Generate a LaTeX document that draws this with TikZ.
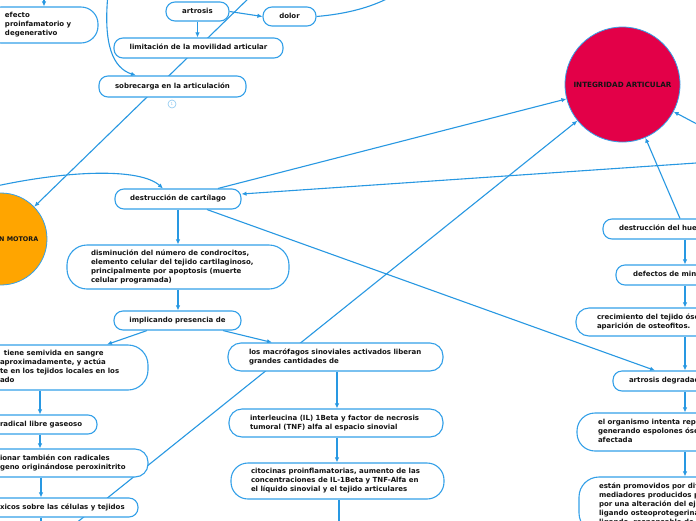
\documentclass[tikz,border=0pt]{standalone}
\usepackage{fontspec}
\setmainfont{DejaVu Sans}
\usetikzlibrary{arrows.meta,calc}
\definecolor{linecol}{RGB}{40,152,226}
\definecolor{boxcol}{RGB}{52,160,232}
\definecolor{txtcol}{RGB}{20,20,20}
\definecolor{crimson}{RGB}{227,0,72}
\definecolor{orng}{RGB}{255,165,0}
\definecolor{badgecol}{RGB}{140,200,240}
\newcommand\boxtext[2]{\makebox[#1pt][l]{\begin{tabular}{@{}l@{}}#2\end{tabular}}}
\newcommand\boxline[2]{\makebox[#1pt][l]{#2}}
\pgfdeclarelayer{back}\pgfdeclarelayer{bg}\pgfsetlayers{back,bg,main}
\begin{document}
\begin{tikzpicture}[x=1pt,y=-1pt,
  every node/.style={font=\fontsize{7}{9}\selectfont\bfseries, text=txtcol},
  box/.style={draw=boxcol, line width=1.1pt, fill=white, inner sep=0pt, rounded corners=9pt},
  one/.style={box, text height=5pt, text depth=1.5pt},
  multi/.style={box, rounded corners=#1pt},
  conn/.style={draw=linecol, line width=1.1pt},
  arr/.style={conn, -{Latex[length=5pt,width=4.5pt]}},
  topic/.style={circle, draw=boxcol, line width=0.8pt, inner sep=0pt, font=\fontsize{7.2}{9}\selectfont\bfseries}]
\useasboundingbox (0,0) rectangle (696,520);
\clip (0,0) rectangle (696,520);

% nodes
\node[multi=17, minimum width=114pt, minimum height=36pt] (efecto) at (41,25) {\boxtext{72}{efecto\\proinfamatorio y\\degenerativo}};
\node[one, minimum width=63pt, minimum height=19pt] (artrosis) at (197.5,11.5) {artrosis};
\node[one, minimum width=53pt, minimum height=19pt] (dolor) at (289.5,16.5) {dolor};
\node[one, minimum width=169pt, minimum height=20pt] (limit) at (198.5,48) {limitación de la movilidad articular};
\node[one, minimum width=147pt, minimum height=21pt] (sobre) at (172.5,86.5) {sobrecarga en la articulación};
\node[circle, draw=badgecol, line width=0.6pt, minimum size=8pt, inner sep=0pt, font=\fontsize{4}{4}\selectfont, text=badgecol] (badge) at (172,104) {1};
\node[topic, fill=orng, minimum size=92pt, font=\fontsize{6.4}{9}\selectfont\bfseries] (motora) at (1,239) {\hspace*{8pt}FUNCIÓN MOTORA};
\node[topic, fill=crimson, minimum size=115pt] (integ) at (622.5,84.5) {INTEGRIDAD ARTICULAR};
\node[one, minimum width=126pt, minimum height=20pt] (dest) at (178,199) {destrucción de cartílago};
\node[multi=20, minimum width=222pt, minimum height=44pt] (dism) at (178,267) {\boxtext{174}{disminución del número de condrocitos,\\elemento celular del tejido cartilaginoso,\\principalmente por apoptosis (muerte\\celular programada)}};
\node[one, minimum width=127pt, minimum height=19pt] (impl) at (177.5,320.5) {implicando presencia de};
\node[multi=20, minimum width=172pt, minimum height=45pt] (semi) at (62,367.5) {\boxtext{124}{\hspace*{4pt}tiene semivida en sangre\\aproximadamente, y actúa\\te en los tejidos locales en los\\ado}};
\node[one, minimum width=127pt, minimum height=19pt] (radical) at (33.5,424.5) {\boxline{67}{radical libre gaseoso}};
\node[multi=13, minimum width=172pt, minimum height=28pt] (peroxi) at (62,463) {\boxtext{124}{ionar también con radicales\\geno originándose peroxinitrito}};
\node[one, minimum width=162pt, minimum height=19pt] (toxic) at (57,507.5) {\boxline{114}{xicos sobre las células y tejidos}};
\node[multi=13, minimum width=215pt, minimum height=28pt] (macro) at (335.5,357) {\boxtext{173}{los macrófagos sinoviales activados liberan\\grandes cantidades de}};
\node[multi=13, minimum width=214pt, minimum height=28pt] (inter) at (336,423) {\boxtext{172}{interleucina (IL) 1Beta y factor de necrosis\\tumoral (TNF) alfa al espacio sinovial}};
\node[multi=17, minimum width=213pt, minimum height=36pt] (cito) at (337.5,481) {\boxtext{173}{citocinas proinflamatorias, aumento de las\\concentraciones de IL-1Beta y TNF-Alfa en\\el líquido sinovial y el tejido articulares}};
\node[one, minimum width=157pt, minimum height=20pt] (hueso) at (681.5,229) {\boxline{125}{destrucción del hueso}};
\node[one, minimum width=144pt, minimum height=20pt] (defect) at (688,275) {\boxline{110}{defectos de mineralización}};
\node[multi=13, minimum width=224pt, minimum height=28pt] (crec) at (688,322) {\boxtext{182}{crecimiento del tejido óseo y\\aparición de osteofitos.}};
\node[one, minimum width=147pt, minimum height=20pt] (adeg) at (686.5,381) {\boxline{115}{artrosis degradada}};
\node[multi=18, minimum width=223pt, minimum height=38pt] (organ) at (688.5,432) {\boxtext{181}{el organismo intenta reparar\\generando espolones óseos\\afectada}};
\node[multi=20, minimum width=221pt, minimum height=56pt] (estan) at (689.5,505) {\boxtext{181}{están promovidos por diferentes\\mediadores producidos por\\por una alteración del eje\\ligando osteoprotegerina\\ligando, responsable de}};

% free ends and column guides
\coordinate (e0) at (44,-6);
\coordinate (c1) at (108,-6);
\coordinate (d1) at (252,-5);
\coordinate (d2) at (396,-6);
\coordinate (lc) at (-6,186.5);
\coordinate (r1) at (702,162.6);
\coordinate (r2) at (702,126.7);
\coordinate (bl) at (70,528);
\coordinate (colL) at (40,0);
\coordinate (colL2) at (41,0);
\coordinate (colM) at (337,0);
\coordinate (colR) at (685,0);
\coordinate (t0) at (41,532);
\coordinate (m0) at (339,532);

\begin{pgfonlayer}{back}
\fill[white] (0,0) rectangle (696,520);
\end{pgfonlayer}
\begin{pgfonlayer}{bg}
\clip (0,0) rectangle (696,520);
\draw[arr] (e0) -- (e0 |- efecto.north);
\draw[arr] (c1) .. controls (103,45) and (113,68) .. ([xshift=-36.5pt]sobre.north);
\draw[conn] (dolor.east) .. controls (345,14) and (372,8) .. (d2);
\draw[arr] (artrosis.east) -- (dolor.west);
\draw[arr] (artrosis.south) -- (artrosis.south |- limit.north);
\draw[arr] (d1) -- (motora);
\draw[arr] (lc) .. controls (70,170) and (140,168) .. ([xshift=-15pt]dest.north);
\draw[arr] (r1) -- ([yshift=5pt]dest.east);
\draw[arr] ([xshift=40pt]dest.north) -- (integ);
\draw[arr] (bl) -- (integ);
\draw[arr] ([xshift=29pt]dest.south) -- ([xshift=-31.5pt]adeg.north);
\draw[arr] (r2) -- (integ.-28);
\draw[arr] ([xshift=-1.5pt]hueso.north) -- (integ);
\draw[arr] (dest.south) -- (dism.north);
\draw[arr] (dism.south) -- (dism.south |- impl.north);
\draw[arr] ([xshift=-30.5pt]impl.south) -- ([xshift=45pt]semi.north);
\draw[arr] ([xshift=45.5pt]impl.south) -- ([xshift=-63.5pt]macro.north);
\draw[arr] (colL |- semi.south) -- (colL |- radical.north);
\draw[arr] (colL |- radical.south) -- (colL |- peroxi.north);
\draw[arr] (colL2 |- peroxi.south) -- (colL2 |- toxic.north);
\draw[arr] (colL2 |- toxic.south) -- (t0);
\draw[arr] (colM |- macro.south) -- (colM |- inter.north);
\draw[arr] (colM |- inter.south) -- (colM |- cito.north);
\draw[arr] (m0 |- cito.south) -- (m0);
\draw[arr] (colR |- hueso.south) -- (colR |- defect.north);
\draw[arr] (colR |- defect.south) -- (colR |- crec.north);
\draw[arr] (colR |- crec.south) -- (colR |- adeg.north);
\draw[arr] (colR |- adeg.south) -- (colR |- organ.north);
\draw[arr] (colR |- organ.south) -- (colR |- estan.north);
\end{pgfonlayer}
\end{tikzpicture}
\end{document}
